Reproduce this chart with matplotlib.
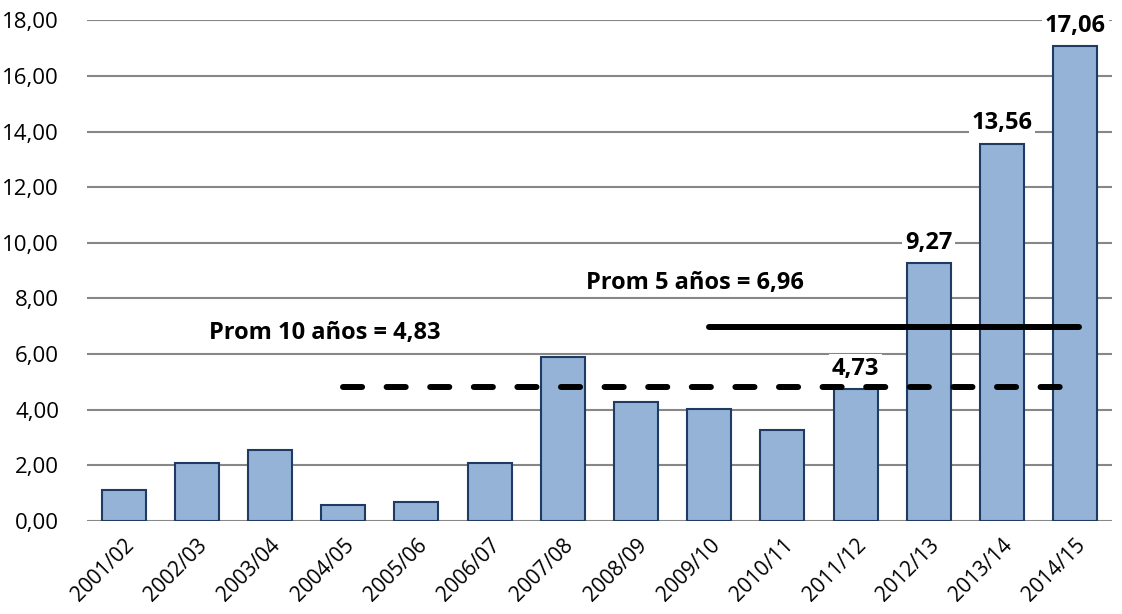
import matplotlib
matplotlib.use('Agg')
import matplotlib.pyplot as plt
import matplotlib.transforms as mtransforms
from matplotlib.ticker import FuncFormatter, MultipleLocator

# datos por campaña
campanas = ['2001/02', '2002/03', '2003/04', '2004/05', '2005/06', '2006/07', '2007/08',
            '2008/09', '2009/10', '2010/11', '2011/12', '2012/13', '2013/14', '2014/15']
valores = [1.11, 2.08, 2.55, 0.57, 0.68, 2.08, 5.89, 4.28, 4.02, 3.27, 4.73, 9.27, 13.56, 17.06]

# promedios
prom10 = 4.83
prom5 = 6.96
tramo10 = [3, 13.05]
tramo5 = [8, 13.05]

etiquetados = [10, 11, 12, 13]

def coma(v):
    return ('%.2f' % v).replace('.', ',')

plt.rcParams['font.family'] = ['Open Sans', 'DejaVu Sans']

fig = plt.figure(figsize=(11.22, 6.14), dpi=100)
ax = fig.add_axes([0.0775, 0.1515, 0.9135, 0.8155])

x = list(range(len(campanas)))
ax.bar(x, valores, width=0.6, color='#95B3D7', edgecolor='#1F3B63', linewidth=1.5, zorder=2)

ax.plot(tramo10, [prom10, prom10], color='black', lw=4.3, dashes=(3.2, 4.1),
        dash_capstyle='round', zorder=3)
ax.plot(tramo5, [prom5, prom5], color='black', lw=4.3, solid_capstyle='round', zorder=3)

for i in etiquetados:
    v = valores[i]
    ax.annotate(coma(v), (x[i], v), xytext=(0, 6),
                textcoords='offset points', ha='center', va='bottom',
                fontsize=17, fontweight='bold', zorder=4,
                bbox=dict(boxstyle='square,pad=0.12', fc='white', ec='none'))

ax.text(2.75, 6.75, 'Prom 10 años = ' + coma(prom10),
        ha='center', va='center', fontsize=17, fontweight='bold', zorder=4)
ax.text(7.81, 8.55, 'Prom 5 años = ' + coma(prom5),
        ha='center', va='center', fontsize=17, fontweight='bold', zorder=4)

ax.set_xlim(-0.5, 13.5)
ax.set_ylim(0, 18)
ax.yaxis.set_major_locator(MultipleLocator(2))
ax.yaxis.set_major_formatter(FuncFormatter(lambda v, p: coma(v)))
ax.yaxis.grid(True, color='#878787', lw=1.5, zorder=0)
ax.set_axisbelow(True)
for s in ax.spines.values():
    s.set_visible(False)

ax.set_xticks(x)
ax.set_xticklabels(campanas, rotation=45, ha='right', rotation_mode='anchor')
desplaza = mtransforms.ScaledTranslation(8 / 100, 0, fig.dpi_scale_trans)
for t in ax.get_xticklabels():
    t.set_transform(t.get_transform() + desplaza)
ax.tick_params(axis='y', length=0, pad=20, labelsize=16)
ax.tick_params(axis='x', length=0, pad=10, labelsize=15)

fig.savefig('out.png', dpi=100)
